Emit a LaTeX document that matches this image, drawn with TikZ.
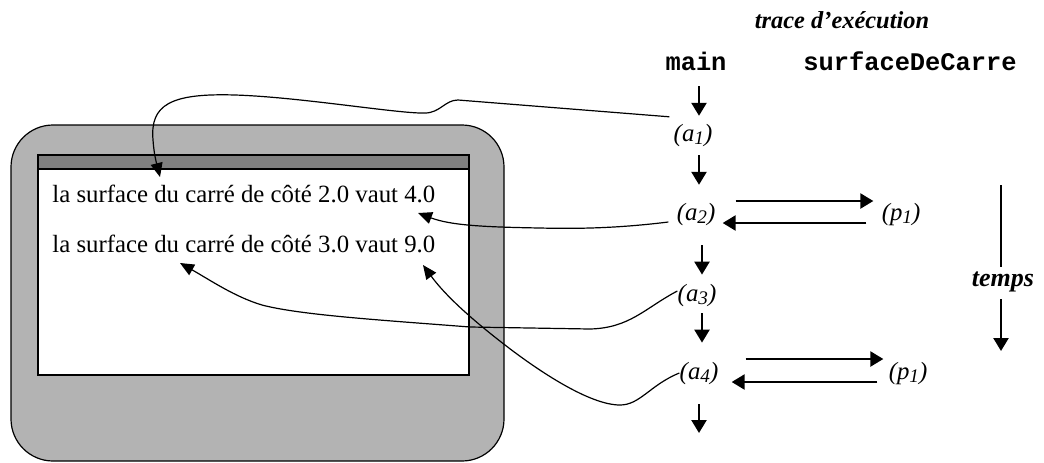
\documentclass[tikz,border=0pt]{standalone}
\usepackage{fontspec}
\setmainfont{Liberation Serif}
\setmonofont{Liberation Mono}
\usetikzlibrary{arrows.meta}
\definecolor{casing}{HTML}{B3B3B3}
\definecolor{titlebar}{HTML}{808080}
\newcommand\stepidx[1]{\raisebox{-0.32ex}{\fontsize{9.6}{10}\selectfont #1}}
\begin{document}
\begin{tikzpicture}[x=0.5pt,y=-0.5pt,
  stepnode/.style={inner sep=0pt,text height=8.5pt,text depth=2.3pt,
    font=\fontsize{12.4}{14}\selectfont\itshape},
  flow/.style={line width=1.2pt,-{Triangle[length=6.5pt,width=7.5pt]}},
  link/.style={line width=0.6pt,-{Triangle[length=7pt,width=6pt]}},
  head/.style={inner sep=0pt,text height=7pt,text depth=0pt,
    font=\fontsize{12.7}{14}\selectfont\ttfamily\bfseries},
  screentext/.style={anchor=base west,inner sep=0pt,
    font=\fontsize{12.4}{14}\selectfont}]
\useasboundingbox (0,0) rectangle (1044,462);

% the computer screen
\draw[fill=casing,line width=0.6pt,rounded corners=21pt] (11,125) rectangle (504,461);
\draw[fill=white,line width=1.2pt] (38,155) rectangle (469,375);
\draw[fill=titlebar,line width=1.2pt] (38,155) rectangle (469,169);
\node[screentext] (l1) at (52,202) {la surface du carré de côté 2.0 vaut 4.0};
\node[screentext] (l2) at (52,252) {la surface du carré de côté 3.0 vaut 9.0};

% execution trace
\node[font=\fontsize{12.2}{14}\selectfont\bfseries\itshape] (title) at (842,20) {trace d’exécution};
\node[head] (main) at (696,63) {main};
\node[head] (surf) at (910,63) {surfaceDeCarre};

\node[stepnode] (a1) at (693,135) {(a\stepidx{1})};
\node[stepnode] (a2) at (696,214) {(a\stepidx{2})};
\node[stepnode] (a3) at (697,295) {(a\stepidx{3})};
\node[stepnode] (a4) at (699,373) {(a\stepidx{4})};
\node[stepnode] (p1a) at (901,214) {(p\stepidx{1})};
\node[stepnode] (p1b) at (908,373) {(p\stepidx{1})};

\coordinate (col) at (699,0);
\coordinate (last) at (699,433);

\draw[flow,shorten <=8pt,shorten >=4pt] (main.south -| col) -- (a1.north -| col);
\draw[flow,shorten <=4.6pt,shorten >=9pt] (a1.south -| col) -- (a2.north -| col);
\draw[flow,shorten <=10pt,shorten >=4.6pt] ([xshift=1.5pt]a2.south -| col) -- ([xshift=1.5pt]a3.north -| col);
\draw[flow,shorten <=3.6pt,shorten >=9.6pt] ([xshift=1.5pt]a3.south -| col) -- ([xshift=1.5pt]a4.north -| col);
\draw[flow,shorten <=10pt] (a4.south -| col) -- (last);

% calls and returns
\draw[flow,shorten <=10pt,shorten >=4pt] ([yshift=6.5pt]a2.east) -- ([yshift=6.5pt]p1a.west);
\draw[flow,shorten <=7.5pt,shorten >=3.5pt] ([yshift=-4.5pt]p1a.west) -- ([yshift=-4.5pt]a2.east);
\draw[flow,shorten <=13.5pt,shorten >=2.5pt] ([yshift=7pt]a4.east) -- ([yshift=7pt]p1b.west);
\draw[flow,shorten <=5.5pt,shorten >=6.5pt] ([yshift=-4.5pt]p1b.west) -- ([yshift=-4.5pt]a4.east);

% time axis
\node[inner sep=0pt,text height=8.5pt,text depth=2.3pt,
  font=\fontsize{13}{14}\selectfont\bfseries\itshape] (temps) at (1003,280) {temps};
\coordinate (ttop) at (1001,185);
\coordinate (tbot) at (1001,351);
\draw[line width=1.2pt,shorten >=1pt] (ttop) -- (temps.north -| ttop);
\draw[flow,shorten <=4pt] (temps.south -| ttop) -- (tbot);

% output produced by each step
\coordinate (t1) at (160,177);
\coordinate (t2) at (418,213);
\coordinate (t3) at (180,263);
\coordinate (t4) at (423,265);

\draw[link] ([shift={(-2pt,3.5pt)}]a1.north west) -- (458,100)
  .. controls (445,100) and (440,113) .. (425,113)
  .. controls (400,114) and (300,97) .. (235,95)
  .. controls (170,93) and (150,105) .. (153,140)
  .. controls (154,155) and (157,165) .. (t1);
\draw[link] ([shift={(-4pt,-4pt)}]a2.west)
  .. controls (620,228) and (580,229) .. (540,228)
  .. controls (480,227) and (450,225) .. (t2);
\draw[link] ([shift={(0pt,2pt)}]a3.west)
  .. controls (645,308) and (630,328) .. (590,329)
  -- (470,327)
  .. controls (380,320) and (300,315) .. (262,305)
  .. controls (235,297) and (210,280) .. (t3);
\draw[link] (a4.west)
  .. controls (650,385) and (640,405) .. (620,405)
  .. controls (590,405) and (540,372) .. (505,345)
  .. controls (470,318) and (445,295) .. (t4);
\end{tikzpicture}
\end{document}
